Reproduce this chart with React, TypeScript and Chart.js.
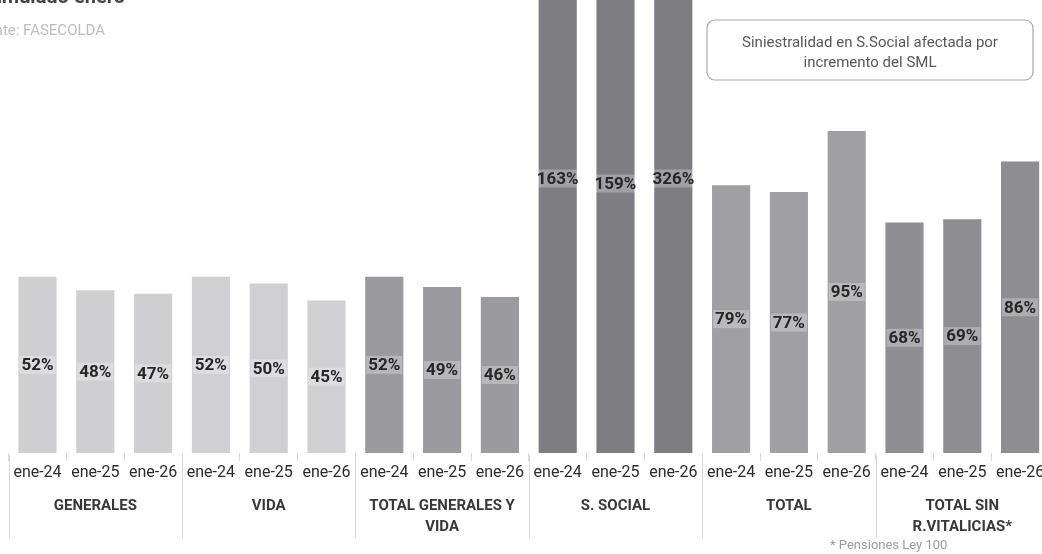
import React, { useEffect, useRef } from 'react';
import { Chart, registerables } from 'chart.js';

Chart.register(...registerables);

// ---- data ----
const periods = ['ene-24', 'ene-25', 'ene-26'];
const groupNames: string[][] = [
  ['GENERALES'],
  ['VIDA'],
  ['TOTAL GENERALES Y', 'VIDA'],
  ['S. SOCIAL'],
  ['TOTAL'],
  ['TOTAL SIN', 'R.VITALICIAS*'],
];
const generales = [52, 48, 47];
const vida = [52, 50, 45];
const totalGenVida = [52, 49, 46];
const sSocial = [163, 159, 326];
const total = [79, 77, 95];
const totalSinRV = [68, 69, 86];
const groupColors = ['#cfcfd2', '#d0d0d3', '#9b9b9f', '#7d7d82', '#a0a0a2', '#8e8e92'];
const noteLines = ['Siniestralidad en S.Social afectada por', 'incremento del SML'];
const footnote = '* Pensiones Ley 100';
const sourceText = 'Fuente: FASECOLDA';
const titleText = 'Siniestralidad acumulado enero';

const seriesByGroup = [generales, vida, totalGenVida, sSocial, total, totalSinRV];
const labels: string[] = [];
const values: number[] = [];
const colors: string[] = [];
seriesByGroup.forEach((s, g) => {
  s.forEach((v, i) => {
    labels.push(periods[i]);
    values.push(v);
    colors.push(groupColors[g]);
  });
});

// ---- geometry ----
const CW = 1060;
const CH = 660;
const TOP = -96; // canvas offset relative to page
const py = (pageY: number) => pageY - TOP;
const FONT = 'Roboto, "Noto Sans", Arial, sans-serif';

const overlayPlugin = {
  id: 'overlay',
  afterDatasetsDraw(chart: any) {
    const ctx = chart.ctx as CanvasRenderingContext2D;
    const area = chart.chartArea;
    const xs = chart.scales.x;
    const meta = chart.getDatasetMeta(0);
    ctx.save();
    // value labels
    ctx.font = `bold 17px ${FONT}`;
    ctx.textAlign = 'center';
    ctx.textBaseline = 'middle';
    meta.data.forEach((el: any, i: number) => {
      const top = Math.max(el.y, area.top);
      const cy = (top + el.base) / 2;
      const txt = `${values[i]}%`;
      const w = ctx.measureText(txt).width;
      ctx.fillStyle = 'rgba(255,255,255,0.28)';
      ctx.fillRect(el.x - w / 2 - 2, cy - 9, w + 4, 18);
      ctx.fillStyle = '#262626';
      ctx.fillText(txt, el.x, cy + 1);
    });
    ctx.restore();
  },
  afterDraw(chart: any) {
    const ctx = chart.ctx as CanvasRenderingContext2D;
    const area = chart.chartArea;
    const xs = chart.scales.x;
    const catW = xs.getPixelForValue(1) - xs.getPixelForValue(0);
    ctx.save();
    // group separators
    ctx.strokeStyle = '#d6d6d6';
    ctx.lineWidth = 1;
    for (let g = 0; g < groupNames.length; g++) {
      const xb = Math.round(xs.getPixelForValue(g * 3) - catW / 2) + 0.5;
      ctx.beginPath();
      ctx.moveTo(xb, area.bottom + 2);
      ctx.lineTo(xb, py(538));
      ctx.stroke();
    }
    // group labels
    ctx.fillStyle = '#383838';
    ctx.font = `bold 15px ${FONT}`;
    ctx.textAlign = 'center';
    ctx.textBaseline = 'middle';
    groupNames.forEach((lines, g) => {
      const cx = (xs.getPixelForValue(g * 3) + xs.getPixelForValue(g * 3 + 2)) / 2;
      lines.forEach((ln, k) => ctx.fillText(ln, cx, py(506 + k * 21)));
    });
    // footnote
    ctx.fillStyle = '#9a9a9a';
    ctx.font = `13px ${FONT}`;
    ctx.textAlign = 'left';
    ctx.fillText(footnote, 830, py(546));
    // note box
    const bx = 707, by = py(20), bw = 326, bh = 60;
    ctx.strokeStyle = '#a8a8a8';
    ctx.lineWidth = 1.2;
    ctx.beginPath();
    (ctx as any).roundRect(bx, by, bw, bh, 8);
    ctx.stroke();
    ctx.fillStyle = '#585858';
    ctx.font = `15px ${FONT}`;
    ctx.textAlign = 'center';
    ctx.fillText(noteLines[0], bx + bw / 2, py(43));
    ctx.fillText(noteLines[1], bx + bw / 2, py(63));
    // source
    ctx.fillStyle = '#bdbdbd';
    ctx.font = `15px ${FONT}`;
    ctx.textAlign = 'right';
    ctx.fillText(sourceText, 105, py(31));
    // title (mostly cropped)
    ctx.fillStyle = '#444';
    ctx.font = `bold 20px ${FONT}`;
    ctx.textAlign = 'right';
    ctx.textBaseline = 'alphabetic';
    ctx.fillText(titleText, 125, py(3));
    ctx.restore();
  },
};

export default function App() {
  const ref = useRef<HTMLCanvasElement | null>(null);
  useEffect(() => {
    if (!ref.current) return;
    const chart = new Chart(ref.current, {
      type: 'bar',
      data: {
        labels,
        datasets: [
          {
            data: values,
            backgroundColor: colors,
            borderWidth: 0,
            barPercentage: 0.66,
            categoryPercentage: 1.0,
          },
        ],
      },
      options: {
        responsive: false,
        maintainAspectRatio: false,
        animation: false,
        layout: { padding: { left: 8.6, right: 11, top: 0, bottom: 0 } },
        plugins: { legend: { display: false }, tooltip: { enabled: false }, title: { display: false } },
        scales: {
          x: {
            type: 'category',
            grid: { offset: true, drawOnChartArea: false, tickLength: 8, color: '#dadada', display: true },
            border: { display: false },
            ticks: {
              font: { family: FONT, size: 16 },
              color: '#2b2b2b',
              padding: 2,
              maxRotation: 0,
              autoSkip: false,
            },
            afterFit: (s: any) => {
              s.height = 111;
            },
          },
          y: { display: false, min: 0, max: 162 },
        },
      },
      plugins: [overlayPlugin],
    });
    return () => chart.destroy();
  }, []);
  return (
    <div style={{ position: 'fixed', left: 0, top: 0, width: '100vw', height: '100vh', overflow: 'hidden', background: '#fff' }}>
      <canvas
        ref={ref}
        width={CW}
        height={CH}
        style={{ position: 'absolute', left: 0, top: TOP, width: CW, height: CH }}
      />
    </div>
  );
}
